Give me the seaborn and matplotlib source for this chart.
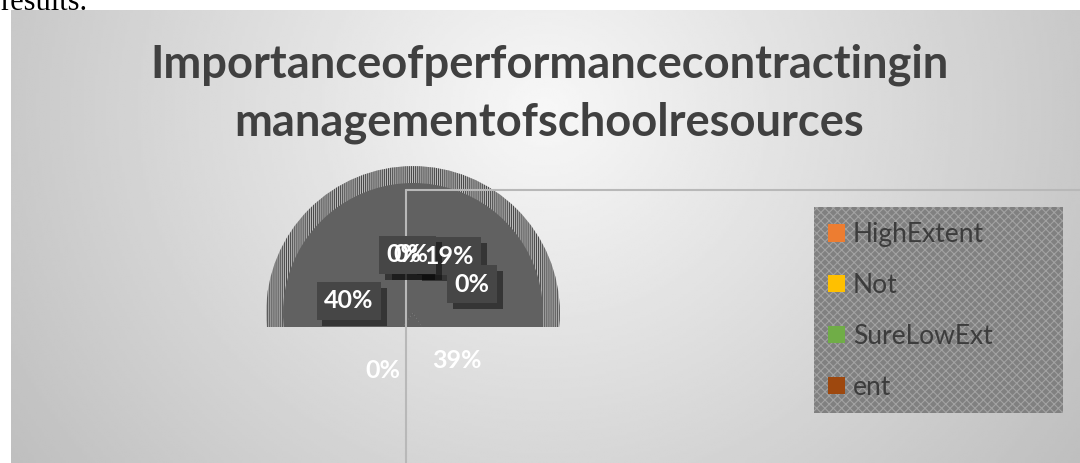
import numpy as np
import matplotlib
matplotlib.use("Agg")
import matplotlib.pyplot as plt
import matplotlib.patches as mpatches
import matplotlib.patheffects as pe
import seaborn as sns

# chart data
title_lines = ["Importanceofperformancecontractingin", "managementofschoolresources"]
slice_values = [40, 0, 0, 19, 0, 39, 0]
legend_labels = ["HighExtent", "Not", "SureLowExt", "ent"]
legend_colors = ["#ED7D31", "#FFC000", "#70AD47", "#9E480E"]

sns.set_theme(style="white")
plt.rcParams["font.family"] = ["Lato", "DejaVu Sans"]
plt.rcParams["hatch.linewidth"] = 0.8

W, H = 1080, 463
fig = plt.figure(figsize=(W / 100, H / 100), dpi=100)
fig.patch.set_facecolor("white")

# background layer in pixel coordinates
bg = fig.add_axes([0, 0, 1, 1])
bg.axis("off")
bg.text(0, 10, "results.", family="Liberation Serif", fontsize=22, color="black", zorder=0)

xs = np.linspace(11, W, 400)
ys = np.linspace(10, H, 200)
X, Y = np.meshgrid(xs, ys)
dist = np.sqrt(((X - 545) / 560) ** 2 + ((Y - 110) / 520) ** 2)
shade = np.clip(0.97 - 0.19 * dist, 0, 1)
bg.imshow(shade, cmap="gray", vmin=0, vmax=1, extent=(11, W, H, 10),
          aspect="auto", interpolation="bilinear", zorder=1)
bg.set_xlim(0, W)
bg.set_ylim(H, 0)

# pie (rendered as one dark half disc)
R, cx, cy, lim = 130, 413, 313, 1.25
size = 2 * lim * R
pie_ax = fig.add_axes([(cx - lim * R) / W, (H - cy - lim * R) / H, size / W, size / H])
wedges, _ = pie_ax.pie(slice_values, colors=["#616161"] * len(slice_values),
                       startangle=90, counterclock=False, radius=1,
                       wedgeprops=dict(linewidth=0))
pie_ax.set_xlim(-lim, lim)
pie_ax.set_ylim(-lim, lim)
cut = -(327 - cy) / R
clip = mpatches.Rectangle((-lim, cut), 2 * lim, 2 * lim, transform=pie_ax.transData)
halo = mpatches.Circle((0, 0), 1.13, facecolor="#c2c2c2", edgecolor="#4a4a4a",
                       hatch="|" * 8, lw=0, zorder=0)
pie_ax.add_patch(halo)
halo.set_clip_path(clip)
for w in wedges:
    w.set_zorder(2)
    w.set_clip_on(True)
    w.set_clip_path(clip)

# overlay layer
top = fig.add_axes([0, 0, 1, 1])
top.set_xlim(0, W)
top.set_ylim(H, 0)
top.axis("off")
top.patch.set_visible(False)

top.plot([406, 406], [190, H], color="#b8b8b8", lw=1.5, zorder=3)
top.plot([406, W], [190, 190], color="#b8b8b8", lw=1.5, zorder=3)

top.text(549, 78, title_lines[0], ha="center", va="baseline", fontsize=32.6,
         fontweight="bold", color="#404040")
top.text(549, 136, title_lines[1], ha="center", va="baseline", fontsize=32.6,
         fontweight="bold", color="#404040")

# data labels
label_xy = [(349, 301), (404, 255), (411, 255), (449, 256), (472, 284), (457, 361), (383, 370)]
label_boxed = [True, True, True, True, True, False, False]
pct_text = [f"{v}%" for v in slice_values]
box_order = [3, 4, 0, 1, 2]
for i in box_order:
    x, y = label_xy[i]
    t = top.text(x, y, pct_text[i], ha="center", va="center", fontsize=18,
                 fontweight="bold", color=(1, 1, 1, 0), zorder=4,
                 bbox=dict(boxstyle="square,pad=0.3", fc="#464646", ec="none"))
    t.get_bbox_patch().set_path_effects([
        pe.SimplePatchShadow(offset=(4, -4), shadow_rgbFace="black", alpha=0.45), pe.Normal()])
for i, (x, y) in enumerate(label_xy):
    top.text(x, y, pct_text[i], ha="center", va="center", fontsize=18,
             fontweight="bold", color="white", zorder=5)

# legend
top.add_patch(mpatches.Rectangle((814, 207), 249, 206, facecolor="#808080",
                                 edgecolor="#a2a2a2", hatch="xxxx", lw=0, zorder=3))
handles = [mpatches.Patch(facecolor=c, edgecolor="none") for c in sns.color_palette(legend_colors)]
leg = top.legend(handles, legend_labels, loc="upper left",
                 bbox_to_anchor=(828 / W, 1 - 222 / H), bbox_transform=fig.transFigure,
                 frameon=False, fontsize=19, labelcolor="#3c3c3c",
                 handlelength=0.65, handleheight=0.65, handletextpad=0.3,
                 labelspacing=0.98, borderaxespad=0, borderpad=0)
leg.set_zorder(6)

fig.savefig("out.png", dpi=100)
